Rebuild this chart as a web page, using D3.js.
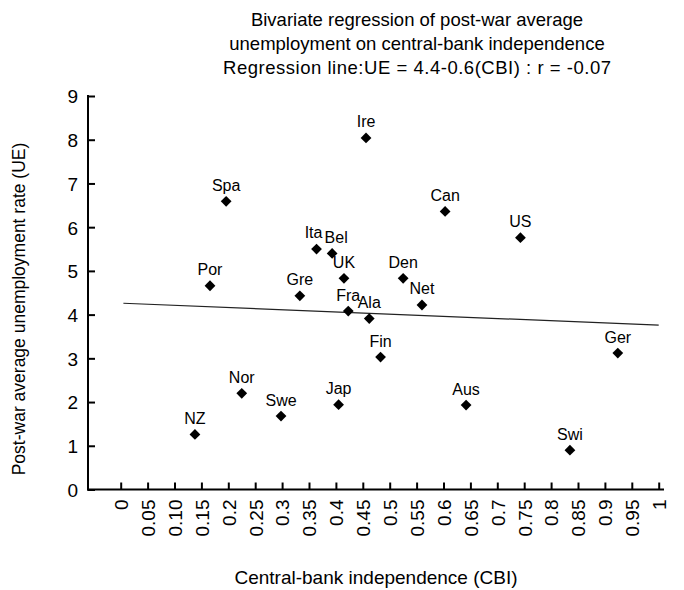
<!DOCTYPE html>
<html>
<head>
<meta charset="utf-8">
<script src="https://cdn.jsdelivr.net/npm/d3@7"></script>
<style>
  html, body { margin: 0; padding: 0; background: #fff; }
  svg text { font-family: "Liberation Sans", Arial, sans-serif; fill: #000; }
</style>
</head>
<body>
<svg id="chart" width="684" height="590"></svg>
<script>
// ---- data ----
const countries = ["Ire","Spa","Can","US","Ita","Bel","UK","Den","Por","Gre","Net","Fra","Ala","Fin","Ger","Nor","Swe","Jap","Aus","NZ","Swi"];
const cbi = [0.456,0.196,0.603,0.743,0.364,0.393,0.415,0.525,0.166,0.333,0.560,0.423,0.462,0.483,0.924,0.225,0.298,0.405,0.642,0.138,0.835];
const ue  = [8.04,6.59,6.36,5.76,5.50,5.40,4.83,4.83,4.66,4.43,4.22,4.08,3.91,3.03,3.12,2.20,1.68,1.94,1.93,1.26,0.90];
const regX = [0.005, 1.0];
const regY = [4.26, 3.76];
const xTicks = [0,0.05,0.10,0.15,0.2,0.25,0.3,0.35,0.4,0.45,0.5,0.55,0.6,0.65,0.7,0.75,0.8,0.85,0.9,0.95,1];
const xTickLabels = ["0","0.05","0.10","0.15","0.2","0.25","0.3","0.35","0.4","0.45","0.5","0.55","0.6","0.65","0.7","0.75","0.8","0.85","0.9","0.95","1"];
const yTicks = [0,1,2,3,4,5,6,7,8,9];
const titleLines = ["Bivariate regression of post-war average","unemployment on central-bank independence","Regression line:UE = 4.4-0.6(CBI) : r = -0.07"];
const xTitle = "Central-bank independence (CBI)";
const yTitle = "Post-war average unemployment rate (UE)";

// ---- layout ----
const svg = d3.select("#chart");
const axisX0 = 88, axisX1 = 664;
const x = d3.scaleLinear().domain([0,1]).range([120.7, 658.7]);
const y = d3.scaleLinear().domain([0,9]).range([489.5, 96]);
const tickFont = "19px";
// label nudges (drawing style only)
const nudge = {Ita:[-3,-1], Bel:[4,0]};

// title
const tl = svg.append("g").selectAll("text").data(titleLines).join("text")
  .attr("x", 417).attr("y", (d,i) => 26 + i*24)
  .attr("text-anchor","middle").style("font-size","18.5px").text(d => d);
tl.filter((d,i) => i === 2).attr("textLength", 388).attr("lengthAdjust","spacing");

// y axis
const yAxis = d3.axisRight(y).tickValues(yTicks).tickSize(7).tickFormat(d3.format("d"));
const gy = svg.append("g").attr("transform", `translate(${axisX0},0)`).call(yAxis);
gy.select(".domain").remove();
gy.selectAll(".tick line").attr("stroke","#000").attr("stroke-width",2);
gy.selectAll(".tick text").attr("x",-10).attr("text-anchor","end").attr("dy","0.36em")
  .style("font-size",tickFont).style("font-family","Liberation Sans, Arial, sans-serif");
svg.append("line").attr("x1",axisX0).attr("x2",axisX0).attr("y1",y(9)-1).attr("y2",y(0)+1)
  .attr("stroke","#000").attr("stroke-width",2);

// x axis
const xAxis = d3.axisTop(x).tickValues(xTicks).tickSize(7).tickFormat((d,i) => xTickLabels[i]);
const gx = svg.append("g").attr("transform", `translate(0,${y(0)})`).call(xAxis);
gx.select(".domain").remove();
gx.selectAll(".tick line").attr("stroke","#000").attr("stroke-width",2);
gx.selectAll(".tick text")
  .attr("transform","rotate(-90)")
  .attr("x",-10).attr("y",0).attr("dy","0.36em")
  .attr("text-anchor","end")
  .style("font-size",tickFont).style("font-family","Liberation Sans, Arial, sans-serif");
svg.append("line").attr("x1",axisX0-1).attr("x2",axisX1).attr("y1",y(0)).attr("y2",y(0))
  .attr("stroke","#000").attr("stroke-width",2);

// axis titles
svg.append("text").attr("x",376).attr("y",584).attr("text-anchor","middle")
  .style("font-size","19px").text(xTitle);
svg.append("text").attr("transform","translate(25,309) rotate(-90)").attr("text-anchor","middle")
  .style("font-size","17.5px").text(yTitle);

// regression line
svg.append("line")
  .attr("x1", x(regX[0])).attr("y1", y(regY[0]))
  .attr("x2", x(regX[1])).attr("y2", y(regY[1]))
  .attr("stroke","#222").attr("stroke-width",1.2);

// points
const pts = countries.map((c,i) => ({name:c, cx:cbi[i], uy:ue[i]}));
const sym = d3.symbol().type(d3.symbolSquare).size(58);
svg.append("g").selectAll("path").data(pts).join("path")
  .attr("d", sym)
  .attr("transform", d => `translate(${x(d.cx)},${y(d.uy)}) rotate(45)`)
  .attr("fill","#000");
svg.append("g").selectAll("text").data(pts).join("text")
  .attr("x", d => x(d.cx) + (nudge[d.name] ? nudge[d.name][0] : 0))
  .attr("y", d => y(d.uy) - 10.5 + (nudge[d.name] ? nudge[d.name][1] : 0))
  .attr("text-anchor","middle").style("font-size","16px")
  .text(d => d.name);
</script>
</body>
</html>
